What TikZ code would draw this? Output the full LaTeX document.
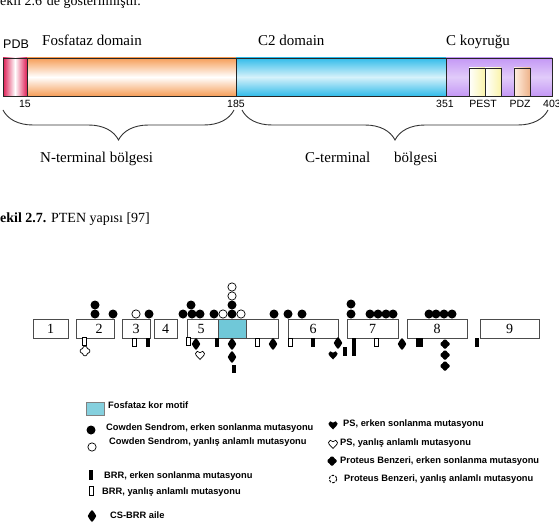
\documentclass[tikz,border=0pt]{standalone}
\usepackage{fontspec}
\setmainfont{Liberation Serif}
\setsansfont{Liberation Sans}
\usetikzlibrary{positioning, decorations.pathreplacing, shapes.geometric}

\definecolor{pdbred}{RGB}{222,30,85}
\definecolor{fosor}{RGB}{246,158,88}
\definecolor{c2blue}{RGB}{50,188,234}
\definecolor{ctpurple}{RGB}{196,152,245}
\definecolor{motifcyan}{RGB}{112,200,216}

\begin{document}
\begin{tikzpicture}[x=1pt, y=-1pt,
    seg/.style={draw=black!85, line width=0.7pt},
    dlabel/.style={anchor=base west, inner sep=0pt, font=\fontsize{15}{15}\selectfont},
    num/.style={anchor=base, inner sep=0pt, font=\sffamily\fontsize{10.5}{11}\selectfont},
    bbrace/.style={decorate, decoration={brace, mirror, amplitude=30pt}, line width=0.9pt, black!80},
    exon/.style={rectangle, draw=black!70, fill=white, line width=0.7pt, inner sep=0pt, minimum height=19pt, font=\fontsize{14}{14}\selectfont},
    cb/.style={circle, fill=black, inner sep=0pt, minimum size=9pt},
    cw/.style={circle, draw=black, line width=0.7pt, fill=white, inner sep=0pt, minimum size=8.3pt},
    barb/.style={rectangle, fill=black, inner sep=0pt, minimum width=4pt, minimum height=9pt},
    barw/.style={rectangle, draw=black, line width=0.6pt, fill=white, inner sep=0pt, minimum width=3.6pt, minimum height=7.6pt},
    legtext/.style={anchor=west, inner sep=0pt, font=\sffamily\bfseries\fontsize{9.3}{10}\selectfont},
    csdia/.pic={\fill (0,-6) .. controls (1,-4) and (4.2,-2.5) .. (4.2,0) .. controls (4.2,2.5) and (1,4) .. (0,6) .. controls (-1,4) and (-4.2,2.5) .. (-4.2,0) .. controls (-4.2,-2.5) and (-1,-4) .. (0,-6) -- cycle;},
    heartb/.pic={\fill (0,4.5) .. controls (-1.5,2.8) and (-4.5,0.5) .. (-4.5,-1.5) .. controls (-4.5,-3.8) and (-1.2,-4.8) .. (0,-2.3) .. controls (1.2,-4.8) and (4.5,-3.8) .. (4.5,-1.5) .. controls (4.5,0.5) and (1.5,2.8) .. (0,4.5) -- cycle;},
    heartw/.pic={\draw[fill=white, line width=0.7pt] (0,4.5) .. controls (-1.5,2.8) and (-4.5,0.5) .. (-4.5,-1.5) .. controls (-4.5,-3.8) and (-1.2,-4.8) .. (0,-2.3) .. controls (1.2,-4.8) and (4.5,-3.8) .. (4.5,-1.5) .. controls (4.5,0.5) and (1.5,2.8) .. (0,4.5) -- cycle;},
    pbcross/.pic={\fill[rounded corners=1.2pt] (-2,-4.5) -- (2,-4.5) -- (2,-2) -- (4.5,-2) -- (4.5,2) -- (2,2) -- (2,4.5) -- (-2,4.5) -- (-2,2) -- (-4.5,2) -- (-4.5,-2) -- (-2,-2) -- cycle; \fill (0,0) circle (3.4);},
    pbcrossw/.pic={\draw[fill=white, line width=0.7pt, rounded corners=1.2pt] (-2,-4.8) -- (2,-4.8) -- (2,-2) -- (4.8,-2) -- (4.8,2) -- (2,2) -- (2,4.8) -- (-2,4.8) -- (-2,2) -- (-4.8,2) -- (-4.8,-2) -- (-2,-2) -- cycle;},
    pbdash/.pic={\draw[line width=0.9pt, dash pattern=on 2.6pt off 1.4pt] (0,0) circle (3.8);},
]
\useasboundingbox (0,0) rectangle (559,524);

% text above, cut by the page
\node[anchor=base west, inner sep=0pt, font=\fontsize{14}{14}\selectfont] (toptext) at (0,5.5) {ekil 2.6'de gösterilmiştir.};

% domain bar
\shade[left color=pdbred, right color=pdbred, middle color=white] (3,58) rectangle (27,96);
\shade[top color=fosor, bottom color=fosor, middle color=white] (27,58) rectangle (236,96);
\shade[top color=c2blue, bottom color=c2blue, middle color=c2blue!20!white] (236,58) rectangle (446,96);
\shade[top color=ctpurple, bottom color=ctpurple, middle color=ctpurple!50!white] (446,58) rectangle (552,96);
\draw[seg] (3,58) rectangle (552,96);
\draw[seg] (27,58) -- (27,96);
\draw[seg] (236,58) -- (236,96);
\draw[seg] (446,58) -- (446,96);

% PEST and PDZ boxes
\shadedraw[seg, left color=white, right color={rgb,255:red,250;green,244;blue,170}] (469,68) rectangle (485,96);
\shadedraw[seg, left color=white, right color={rgb,255:red,250;green,244;blue,170}] (485,68) rectangle (501,96);
\shadedraw[seg, left color={rgb,255:red,255;green,240;blue,225}, right color={rgb,255:red,238;green,178;blue,138}] (514,68) rectangle (530,96);

% domain labels
\node[anchor=base west, inner sep=0pt, font=\sffamily\fontsize{12.5}{13}\selectfont] (pdb) at (3,49) {PDB};
\node[dlabel] (fosl) at (42,46) {Fosfataz domain};
\node[dlabel] (c2l) at (258,46) {C2 domain};
\node[dlabel] (ctl) at (446,46) {C koyruğu};

% positions
\node[num] (n15) at (25,107) {15};
\node[num] (n185) at (236,107) {185};
\node[num] (n351) at (445,107) {351};
\node[num] (npest) at (483,107) {PEST};
\node[num] (npdz) at (520,107) {PDZ};
\node[num, anchor=base west] (n403) at (543,107) {403};

% braces
\coordinate (nb1) at (3,110);
\coordinate (nb2) at (234,110);
\coordinate (cb1) at (242,110);
\coordinate (cb2) at (548,110);
\draw[bbrace] (nb1) -- (nb2);
\draw[bbrace] (cb1) -- (cb2);
\node[dlabel] (nterm) at (40,162) {N-terminal bölgesi};
\node[dlabel] (cterm) at (305,162) {C-terminal\hspace*{24pt}bölgesi};

% caption
\node[anchor=base west, inner sep=0pt, font=\fontsize{14}{14}\selectfont] (capt) at (0,222) {\textbf{ekil 2.7.} PTEN yapısı [97]};

% exons
\node[exon, minimum width=35pt] (ex1) at (50.5,328.5) {1};
\node[exon, minimum width=38pt] (ex2) at (95,328.5) {\hspace*{8pt}2};
\node[exon, minimum width=28pt] (ex3) at (136,328.5) {3};
\node[exon, minimum width=23pt] (ex4) at (165.5,328.5) {4};
\node[exon, minimum width=91pt] (ex5) at (232.5,328.5) {};
\node[exon, minimum width=28pt, fill=motifcyan] (motif) at (232,328.5) {};
\node[inner sep=0pt, font=\fontsize{14}{14}\selectfont] (lab5) at (201,328.5) {5};
\node[exon, minimum width=50pt] (ex6) at (313,328.5) {6};
\node[exon, minimum width=51pt] (ex7) at (372.5,328.5) {7};
\node[exon, minimum width=60pt] (ex8) at (437,328.5) {8};
\node[exon, minimum width=59pt] (ex9) at (509.5,328.5) {9};

% Cowden Sendrom, yanlis anlamli
\foreach \x/\y [count=\i] in {136/314, 223/314, 241/314, 232/296, 232/287}
  \node[cw] (cw\i) at (\x,\y) {};
% Cowden Sendrom, erken sonlanma
\foreach \x/\y [count=\i] in {95/305, 95/314, 113/314, 149/314, 183/314, 192/314, 200/314, 191/305, 214/314, 232/314, 232/305, 274/314, 288/314, 302/314, 351/304, 351/314, 370/314, 378/314, 386/314, 393/314, 429/314, 436/314, 444/314, 452/314}
  \node[cb] (cs\i) at (\x,\y) {};

% BRR bars
\foreach \x/\y [count=\i] in {84/341.5, 134/342, 188.5/341.5, 257.5/342.5, 290/342, 376/342.5}
  \node[barw] (bw\i) at (\x,\y) {};
\node[barb] (bb1) at (147.5,342.5) {};
\node[barb] (bb2) at (216.5,342.5) {};
\node[barb, minimum height=8pt] (bb3) at (233.5,369) {};
\node[barb] (bb4) at (312.5,342.5) {};
\node[barb] (bb5) at (344.5,351.5) {};
\node[barb, minimum height=18pt] (bb6) at (354,347) {};
\node[barb, minimum width=7.5pt] (bb7) at (419.5,342.5) {};
\node[barb] (bb8) at (477,342.5) {};

% CS-BRR, PS, Proteus
\foreach \x/\y [count=\i] in {196/344, 232/344, 232/357, 273/344, 338/343, 402/344}
  \pic (dm\i) at (\x,\y) {csdia};
\pic (hw1) at (200,355) {heartw};
\pic (hb1) at (333,355) {heartb};
\foreach \y [count=\i] in {344, 355, 366}
  \pic (pc\i) at (445,\y) {pbcross};
\pic (pw1) at (85,351) {pbcrossw};

% legend
\node[rectangle, draw=black!50, fill=motifcyan!85!white, minimum width=18pt, minimum height=13pt, inner sep=0pt] (lgmotif) at (95,408.5) {};
\node[legtext] (lgt1) at (108,405) {Fosfataz kor motif};
\node[cb] (lgcb) at (91,430) {};
\node[legtext] (lgt2) at (106,428) {Cowden Sendrom, erken sonlanma mutasyonu};
\node[cw] (lgcw) at (92,447) {};
\node[legtext] (lgt3) at (109,442) {Cowden Sendrom, yanlış anlamlı mutasyonu};
\node[barb, minimum height=10pt] (lgbb) at (91,475) {};
\node[legtext] (lgt4) at (104,476) {BRR, erken sonlanma mutasyonu};
\node[barw, minimum height=9pt] (lgbw) at (91,491) {};
\node[legtext] (lgt5) at (102,492) {BRR, yanlış anlamlı mutasyonu};
\pic (lgdm) at (92,516) {csdia};
\node[legtext] (lgt6) at (110,515) {CS-BRR aile};
\pic (lghb) at (333,425) {heartb};
\node[legtext] (lgt7) at (343,424) {PS, erken sonlanma mutasyonu};
\pic (lghw) at (333,444) {heartw};
\node[legtext] (lgt8) at (340,443) {PS, yanlış anlamlı mutasyonu};
\pic (lgpc) at (332,461) {pbcross};
\node[legtext] (lgt9) at (340,461) {Proteus Benzeri, erken sonlanma mutasyonu};
\pic (lgpd) at (333,479) {pbdash};
\node[legtext] (lgt10) at (344,479) {Proteus Benzeri, yanlış anlamlı mutasyonu};
\end{tikzpicture}
\end{document}
